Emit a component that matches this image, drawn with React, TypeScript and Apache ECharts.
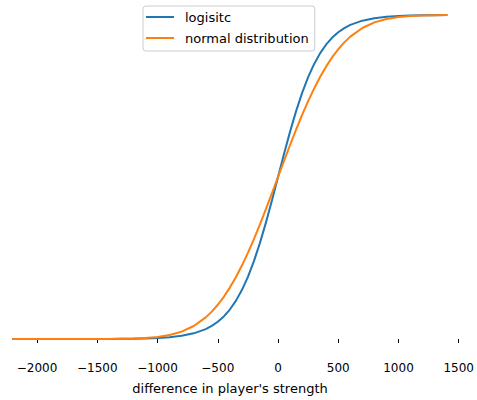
import React, { useEffect, useRef } from "react";
import * as echarts from "echarts";

const xValues = [
  -2200, -2100, -2000, -1900, -1800, -1700, -1600, -1500, -1400, -1300, -1200, -1100, -1000, -900, -800, -700,
  -600, -550, -500, -450, -400, -350, -300, -250, -200, -150, -100, -50, 0, 50, 100, 150, 200, 250, 300, 350, 400,
  450, 500, 550, 600,
  700, 800, 900, 1000, 1100, 1200, 1300, 1400,
];

const logisticValues = [
  0.0, 0.00001, 0.00001, 0.00002, 0.00003, 0.00006, 0.0001, 0.00018, 0.00032, 0.00056, 0.001, 0.00178, 0.00315,
  0.00559, 0.0099, 0.01747,
  0.03065, 0.04046, 0.05324, 0.06976, 0.09091, 0.11765, 0.15098, 0.19169, 0.24025, 0.29662, 0.35994, 0.42854, 0.5,
  0.57146, 0.64006, 0.70338, 0.75975, 0.80831, 0.84902, 0.88235, 0.90909, 0.93024, 0.94676, 0.95954, 0.96935,
  0.98253, 0.9901, 0.99441, 0.99685, 0.99822, 0.999, 0.99944, 0.99968,
];

const normalValues = [
  0.0, 0.0, 0.0, 0.0, 0.0, 0.00001, 0.00003, 0.00009, 0.00023, 0.00058, 0.00135, 0.00298, 0.00621, 0.01222,
  0.02275, 0.04006,
  0.06681, 0.08457, 0.10565, 0.13029, 0.15866, 0.19079, 0.22663, 0.26599, 0.30854, 0.35383, 0.40129, 0.45026, 0.5,
  0.54974, 0.59871, 0.64617, 0.69146, 0.73401, 0.77337, 0.80921, 0.84134, 0.86971, 0.89435, 0.91543, 0.93319,
  0.95994, 0.97725, 0.98778, 0.99379, 0.99702, 0.99865, 0.99942, 0.99977,
];

const seriesNames = ["logisitc", "normal distribution"];
const tickValues = [-2000, -1500, -1000, -500, 0, 500, 1000, 1500];
const xAxisTitle = "difference in player's strength";

const FONT = "DejaVu Sans";

export default function App() {
  const ref = useRef<HTMLDivElement>(null);
  useEffect(() => {
    if (!ref.current) return;
    const chart = echarts.init(ref.current, undefined, { renderer: "svg" });
    const toPairs = (ys: number[]) => xValues.map((x, i) => [x, ys[i]]);
    chart.setOption({
      animation: false,
      backgroundColor: "#ffffff",
      grid: { left: 13, right: 6, top: 15, bottom: 61, containLabel: false },
      legend: {
        data: seriesNames,
        orient: "vertical",
        left: 143,
        top: 6,
        icon: "rect",
        itemWidth: 28,
        itemHeight: 2,
        itemGap: 5,
        padding: [3, 6, 5, 3],
        borderColor: "#cccccc",
        borderWidth: 1,
        borderRadius: 3,
        backgroundColor: "rgba(255,255,255,0.8)",
        textStyle: {
          fontFamily: FONT,
          fontSize: 13,
          color: "#000000",
          lineHeight: 16,
          padding: [0, 0, 0, 6],
        },
      },
      xAxis: {
        type: "value",
        min: -2200,
        max: 1600,
        offset: 16,
        axisLine: { show: false },
        splitLine: { show: false },
        axisTick: {
          show: true,
          length: 4,
          customValues: tickValues,
          lineStyle: { color: "#000000", width: 1 },
        },
        axisLabel: {
          customValues: tickValues,
          margin: 7,
          fontFamily: FONT,
          fontSize: 12,
          color: "#000000",
          formatter: (v: number) => (v < 0 ? "\u2212" + Math.abs(v) : String(v)),
        },
      },
      yAxis: {
        type: "value",
        min: 0,
        max: 1,
        show: false,
        splitLine: { show: false },
      },
      graphic: [
        {
          type: "text",
          x: 230,
          y: 388,
          style: {
            text: xAxisTitle,
            fontFamily: FONT,
            fontSize: 13,
            fill: "#000000",
            align: "center",
            verticalAlign: "middle",
          },
        },
      ],
      series: [
        {
          name: seriesNames[0],
          type: "line",
          data: toPairs(logisticValues),
          showSymbol: false,
          smooth: false,
          lineStyle: { color: "#1f77b4", width: 2, join: "round", cap: "round" },
          itemStyle: { color: "#1f77b4" },
        },
        {
          name: seriesNames[1],
          type: "line",
          data: toPairs(normalValues),
          showSymbol: false,
          smooth: false,
          lineStyle: { color: "#ff7f0e", width: 2, join: "round", cap: "round" },
          itemStyle: { color: "#ff7f0e" },
        },
      ],
    });
    return () => chart.dispose();
  }, []);
  return (
    <div
      ref={ref}
      style={{ position: "fixed", left: 0, top: 0, width: 477, height: 400 }}
    />
  );
}
